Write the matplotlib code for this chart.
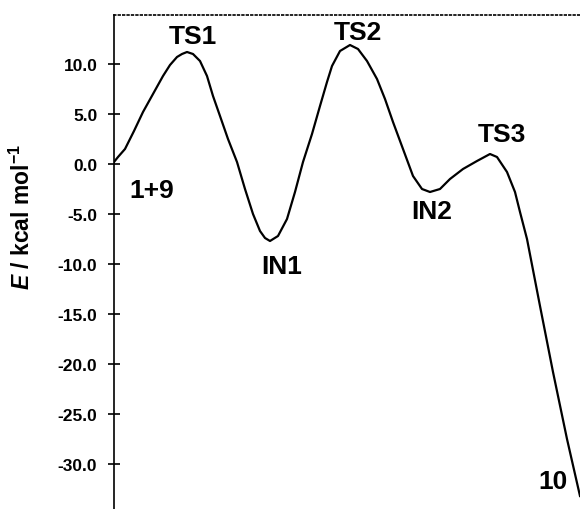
import matplotlib
matplotlib.use('Agg')
import matplotlib.pyplot as plt

plt.rcParams['font.family'] = ['Liberation Sans', 'DejaVu Sans']
plt.rcParams['mathtext.fontset'] = 'custom'
plt.rcParams['mathtext.rm'] = 'Liberation Sans:bold'
plt.rcParams['mathtext.bf'] = 'Liberation Sans:bold'
plt.rcParams['mathtext.it'] = 'Liberation Sans:bold:italic'

# reaction coordinate (arbitrary units) and energy in kcal/mol
coord = [0, 4, 11, 20, 29, 39, 49, 56, 63, 68, 73, 79, 86, 93, 99, 106, 114,
         123, 131, 139, 146, 151, 156, 164, 173, 181, 189, 198, 206, 213, 218,
         226, 236, 244, 253, 263, 271, 279, 289, 299, 308, 316, 326, 336, 349,
         363, 376, 383, 393, 401, 406, 413, 426, 439, 453, 466]
energy = [0.2, 0.7, 1.5, 3.3, 5.2, 7.0, 8.8, 9.9, 10.7, 11.0, 11.2, 11.0,
          10.3, 8.8, 6.8, 4.8, 2.5, 0.2, -2.5, -5.0, -6.7, -7.4, -7.7, -7.2,
          -5.5, -2.8, 0.2, 3.0, 5.8, 8.2, 9.8, 11.3, 11.9, 11.5, 10.3, 8.5,
          6.5, 4.2, 1.5, -1.2, -2.5, -2.8, -2.5, -1.5, -0.5, 0.3, 1.0, 0.7,
          -0.8, -2.8, -4.8, -7.5, -14.2, -20.8, -27.5, -33.2]

labels = ['1+9', 'TS1', 'IN1', 'TS2', 'IN2', 'TS3', '10']
label_x = [38, 79, 168, 244, 318, 388, 439]
label_y = [-2.6, 12.8, -10.2, 13.2, -4.7, 3.0, -31.7]

yticks = [10, 5, 0, -5, -10, -15, -20, -25, -30]

fig = plt.figure(figsize=(5.8, 5.1), dpi=100)
ax = fig.add_axes([114 / 580, 0, 1 - 114 / 580, 1 - 16 / 510])

ax.plot(coord, energy, color='black', lw=1.6, solid_joinstyle='round')

for lab, lx, ly in zip(labels, label_x, label_y):
    ax.text(lx, ly, lab, fontsize=19, fontweight='bold', ha='center', va='center')

ax.set_xlim(0, 466)
ax.set_ylim(-34.5, 14.9)
ax.set_yticks(yticks)
ax.set_yticklabels([f'{v:.1f}' for v in yticks])
ax.set_xticks([])

ax.spines['right'].set_visible(False)
ax.spines['bottom'].set_visible(False)
ax.spines['top'].set_linestyle(':')
ax.spines['top'].set_linewidth(1.2)
ax.spines['left'].set_linewidth(1.2)

ax.tick_params(axis='y', direction='inout', length=8, width=1.2, pad=8,
               labelsize=12.5)
for t in ax.get_yticklabels():
    t.set_fontweight('bold')

ax.set_ylabel(r'$\it{E}$ / kcal mol$^{-1}$', fontsize=16.5, fontweight='bold')
ax.yaxis.set_label_coords(-0.17, 0.593)

fig.savefig('out.png', dpi=100)
